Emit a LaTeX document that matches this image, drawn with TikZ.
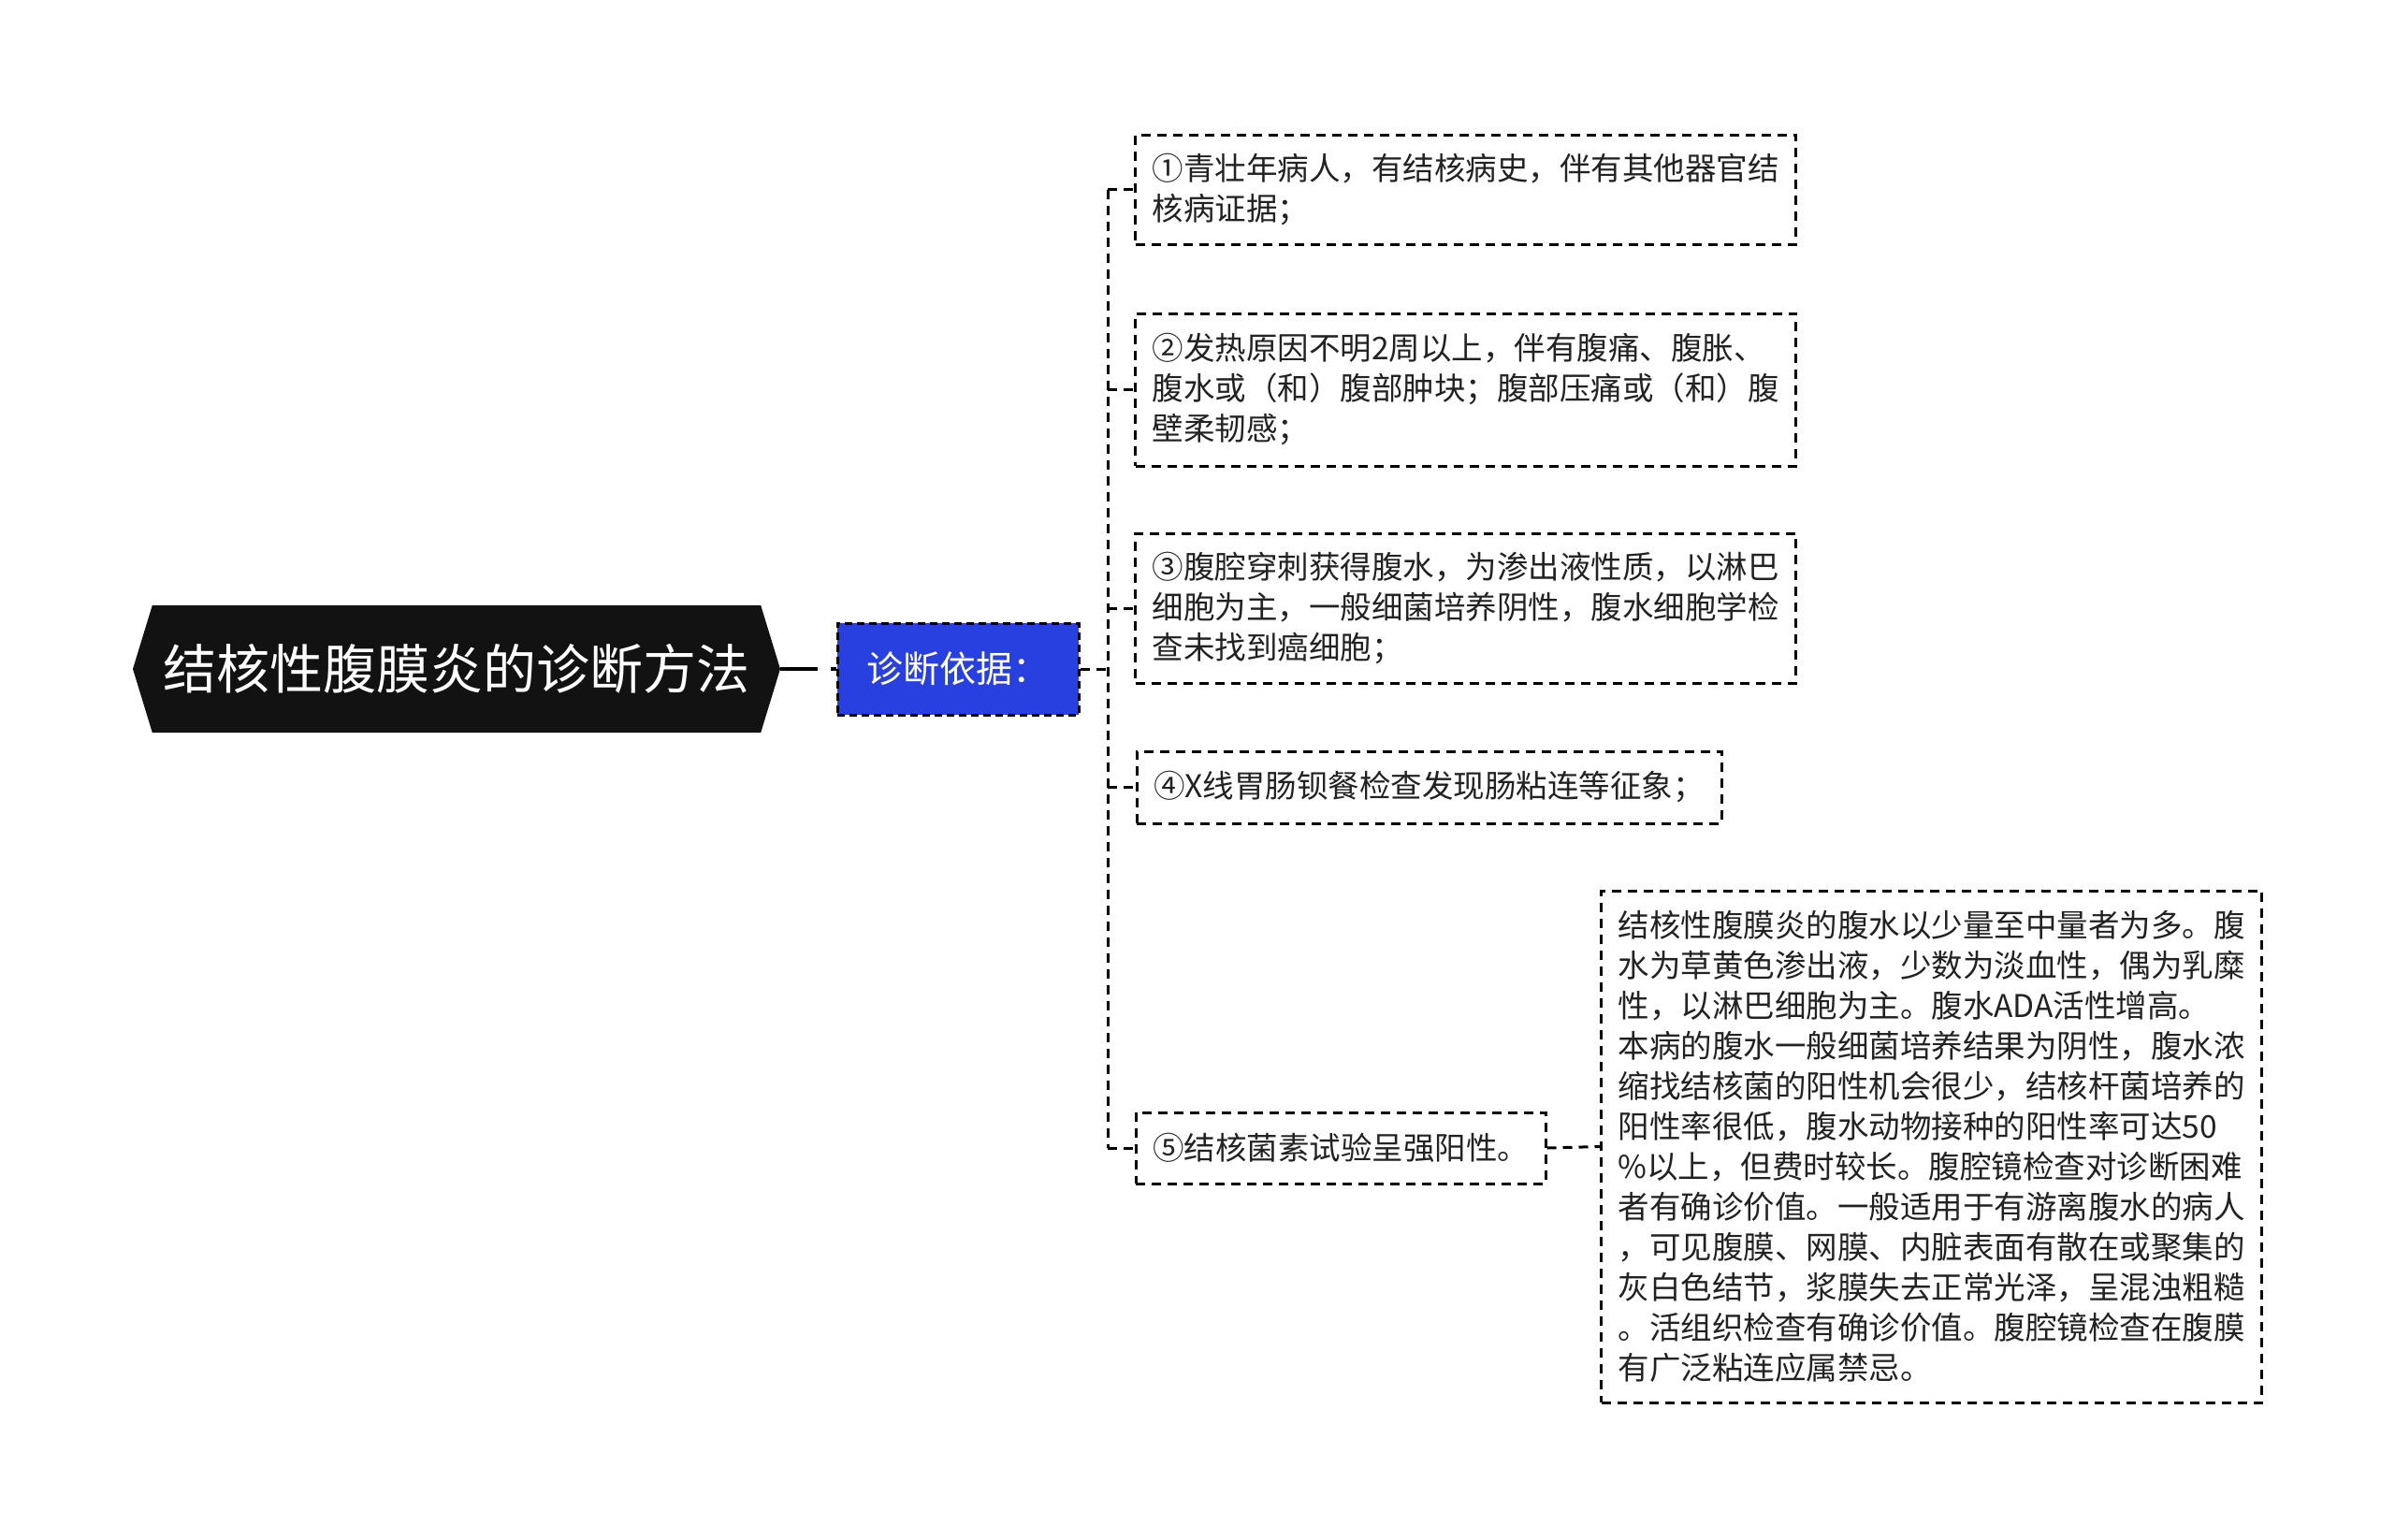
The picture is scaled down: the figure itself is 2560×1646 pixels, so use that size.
\documentclass[tikz,border=0pt]{standalone}
\usepackage{fontspec}
\setmainfont{Noto Sans CJK SC}
\usetikzlibrary{positioning,calc,shapes.symbols}
\definecolor{basisblue}{RGB}{40,64,224}
\definecolor{leaftext}{RGB}{34,34,34}

\begin{document}
\begin{tikzpicture}[x=1pt,y=-1pt,
  leaf/.style={rectangle,draw,line width=3pt,dash pattern=on 10pt off 7pt,align=left,inner xsep=18pt,inner ysep=0pt,text=leaftext,font=\fontsize{33.5}{43}\selectfont},
  link/.style={line width=3pt,dash pattern=on 10pt off 7pt}]
\useasboundingbox[fill=white] (0,0) rectangle (2560,1646);

% root of the map
\node[signal,signal to=west and east,signal pointer angle=146,fill=black!93,text=white,inner sep=0pt,minimum width=692pt,minimum height=136pt,font=\fontsize{57}{60}\selectfont,name=root] at (488,715) {结核性腹膜炎的诊断方法};

% first level
\node[rectangle,draw,line width=3pt,dash pattern=on 8pt off 5pt,fill=basisblue,text=white,minimum width=258pt,minimum height=98pt,font=\fontsize{39}{44}\selectfont,name=basis] at (1024,715) {诊断依据：};

% used to align the branches
\coordinate (trunk) at (1184,715);

% the five criteria
\node[leaf,minimum width=703pt,minimum height=117pt,name=c1] at (1566.5,202.5) {①青壮年病人，有结核病史，伴有其他器官结\\核病证据；};
\node[leaf,minimum width=703pt,minimum height=163pt,name=c2] at (1566.5,416.5) {②发热原因不明2周以上，伴有腹痛、腹胀、\\腹水或（和）腹部肿块；腹部压痛或（和）腹\\壁柔韧感；};
\node[leaf,minimum width=703pt,minimum height=160pt,name=c3] at (1566.5,650) {③腹腔穿刺获得腹水，为渗出液性质，以淋巴\\细胞为主，一般细菌培养阴性，腹水细胞学检\\查未找到癌细胞；};
\node[leaf,minimum width=625pt,minimum height=77pt,name=c4] at (1527.5,841.5) {④X线胃肠钡餐检查发现肠粘连等征象；};
\node[leaf,minimum width=436pt,minimum height=76pt,name=c5] at (1433,1227) {⑤结核菌素试验呈强阳性。};

% note on the fifth criterion
\node[leaf,minimum width=703pt,minimum height=547pt,name=detail] at (2064.5,1225.5) {结核性腹膜炎的腹水以少量至中量者为多。腹\\水为草黄色渗出液，少数为淡血性，偶为乳糜\\性，以淋巴细胞为主。腹水ADA活性增高。\\本病的腹水一般细菌培养结果为阴性，腹水浓\\缩找结核菌的阳性机会很少，结核杆菌培养的\\阳性率很低，腹水动物接种的阳性率可达50\\\%以上，但费时较长。腹腔镜检查对诊断困难\\者有确诊价值。一般适用于有游离腹水的病人\\，可见腹膜、网膜、内脏表面有散在或聚集的\\灰白色结节，浆膜失去正常光泽，呈混浊粗糙\\。活组织检查有确诊价值。腹腔镜检查在腹膜\\有广泛粘连应属禁忌。};

% connectors
\draw[line width=4pt,dash pattern=on 40pt off 14pt on 7pt off 8pt] (root.east) -- (basis.west);
\draw[link] (basis.east) -- (trunk);
\draw[link] (trunk |- c1.west) -- (trunk |- c5.west);
\foreach \c in {c1,c2,c3,c4,c5}
  \draw[link] (trunk |- \c.west) -- (\c.west);
\draw[link] (c5.east) -- (detail.west);
\end{tikzpicture}
\end{document}
